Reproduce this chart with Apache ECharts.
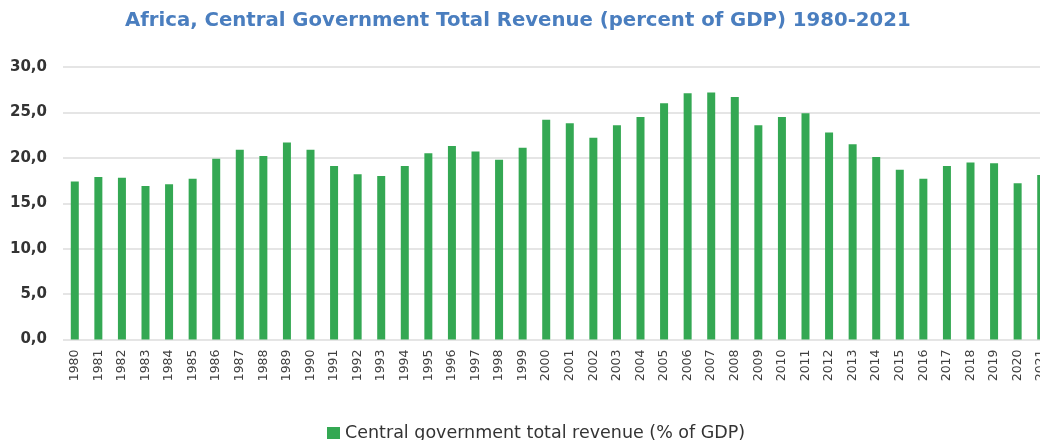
<!DOCTYPE html>
<html>
<head>
<meta charset="utf-8">
<script src="https://cdn.jsdelivr.net/npm/echarts@6/dist/echarts.min.js"></script>
<style>
html,body{margin:0;padding:0;background:#fff;overflow:hidden;width:1040px;height:440px;}
#chart{width:1053px;height:440px;}
</style>
</head>
<body>
<div id="chart"></div>
<script>
const titleText = 'Africa, Central Government Total Revenue (percent of GDP) 1980-2021';
const seriesName = 'Central government total revenue (% of GDP)';
const years = ['1980','1981','1982','1983','1984','1985','1986','1987','1988','1989',
  '1990','1991','1992','1993','1994','1995','1996','1997','1998','1999',
  '2000','2001','2002','2003','2004','2005','2006','2007','2008','2009',
  '2010','2011','2012','2013','2014','2015','2016','2017','2018','2019',
  '2020','2021'];
const revenue = [17.4,17.9,17.8,16.9,17.1,17.7,19.9,20.9,20.2,21.7,
  20.9,19.1,18.2,18.0,19.1,20.5,21.3,20.7,19.8,21.1,
  24.2,23.8,22.2,23.6,24.5,26.0,27.1,27.2,26.7,23.6,
  24.5,24.9,22.8,21.5,20.1,18.7,17.7,19.1,19.5,19.4,
  17.2,18.1];
const yTicks = {min: 0, max: 30, interval: 5};

const chart = echarts.init(document.getElementById('chart'));
chart.setOption({
  animation: false,
  backgroundColor: '#ffffff',
  title: {
    text: titleText,
    left: 120,
    top: 6,
    textStyle: {color: '#4a7ebf', fontFamily: 'DejaVu Sans', fontWeight: 'bold', fontSize: 19.7}
  },
  legend: {
    data: [seriesName],
    left: 322,
    top: 419,
    itemWidth: 13,
    itemHeight: 12,
    itemGap: 10,
    icon: 'rect',
    textStyle: {color: '#333333', fontFamily: 'DejaVu Sans', fontSize: 17.5}
  },
  grid: {left: 63, right: 0, top: 67, bottom: 100.5},
  xAxis: {
    type: 'category',
    data: years,
    axisLine: {show: false},
    axisTick: {show: false},
    axisLabel: {interval: 0, rotate: 90, margin: 10, color: '#404040', fontFamily: 'DejaVu Sans', fontSize: 12.5}
  },
  yAxis: {
    type: 'value',
    min: yTicks.min,
    max: yTicks.max,
    interval: yTicks.interval,
    axisLine: {show: false},
    axisTick: {show: false},
    axisLabel: {
      margin: 16,
      color: '#333333',
      fontFamily: 'DejaVu Sans',
      fontWeight: 'bold',
      fontSize: 15,
      formatter: v => v.toFixed(1).replace('.', ',')
    },
    splitLine: {lineStyle: {color: '#dcdcdc', width: 1.5}}
  },
  series: [{
    name: seriesName,
    type: 'bar',
    data: revenue,
    barWidth: 8,
    itemStyle: {color: '#34a853'}
  }]
});
</script>
</body>
</html>
